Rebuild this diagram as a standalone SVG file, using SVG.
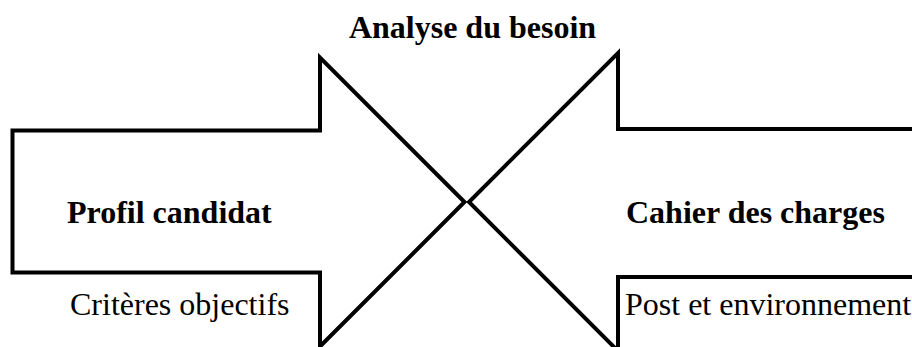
<svg xmlns="http://www.w3.org/2000/svg" width="912" height="347" viewBox="0 0 912 347">
<style>
.arrow{fill:none;stroke:#000;stroke-width:4;stroke-linejoin:miter;stroke-miterlimit:10}
.b{font-family:"Liberation Serif","Times New Roman",serif;font-size:32px;font-weight:bold;fill:#000}
.r{font-family:"Liberation Serif","Times New Roman",serif;font-size:32px;fill:#000}
</style>
<rect width="912" height="347" fill="#fff"/>
<g id="left-arrow">
<polygon class="arrow" points="12.5,130.5 320,130.5 320,57.5 464.5,202 320,346.5 320,272.5 12.5,272.5"/>
<text class="b" x="67" y="223">Profil candidat</text>
<text class="r" x="70" y="315">Critères objectifs</text>
</g>
<g id="right-arrow">
<polygon class="arrow" points="920,129 618,129 618,53 469,202 618,351 618,277 920,277"/>
<text class="b" x="626" y="223">Cahier des charges</text>
<text class="r" x="625" y="315">Post et environnement</text>
</g>
<g id="title">
<text class="b" x="472.5" y="38" text-anchor="middle">Analyse du besoin</text>
</g>
<g id="connectors"></g>
</svg>
